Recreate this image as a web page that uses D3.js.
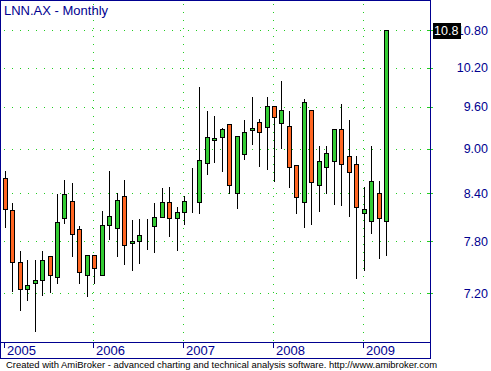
<!DOCTYPE html>
<html>
<head>
<meta charset="utf-8">
<script src="https://cdn.jsdelivr.net/npm/d3@7"></script>
<style>
  body { margin: 0; background: #fff; }
  svg { display: block; font-family: "Liberation Sans", Arial, sans-serif; }
</style>
</head>
<body>
<div id="chart-div"></div>
<script>
// LNN.AX monthly candles, Jan 2005 - Apr 2009
var months = [
    "2005-01", "2005-02", "2005-03", "2005-04", "2005-05", "2005-06", "2005-07", "2005-08", "2005-09", "2005-10", "2005-11", "2005-12",
    "2006-01", "2006-02", "2006-03", "2006-04", "2006-05", "2006-06", "2006-07", "2006-08", "2006-09", "2006-10", "2006-11", "2006-12",
    "2007-01", "2007-02", "2007-03", "2007-04", "2007-05", "2007-06", "2007-07", "2007-08", "2007-09", "2007-10", "2007-11", "2007-12",
    "2008-01", "2008-02", "2008-03", "2008-04", "2008-05", "2008-06", "2008-07", "2008-08", "2008-09", "2008-10", "2008-11", "2008-12",
    "2009-01", "2009-02", "2009-03", "2009-04"
];
var open = [
    8.60, 8.19, 7.55, 7.25, 7.31, 7.35, 7.63, 7.38, 8.09, 8.30, 7.95, 7.41,
    7.64, 7.41, 8.00, 7.96, 8.37, 7.78, 7.80, 7.99, 7.99, 8.10, 8.29, 8.09,
    8.16, 8.30, 8.29, 8.80, 9.12, 9.16, 9.35, 8.41, 8.92, 9.26, 9.38, 9.31,
    9.61, 9.36, 9.32, 8.78, 8.29, 9.55, 8.51, 8.75, 8.83, 9.28, 8.90, 8.79,
    8.15, 8.05, 8.40, 8.05
];
var high = [
    8.70, 8.28, 7.69, 7.58, 7.58, 7.69, 7.63, 8.39, 8.58, 8.54, 7.99, 7.64,
    7.64, 8.18, 8.69, 8.40, 8.58, 8.06, 8.07, 8.07, 8.28, 8.47, 8.48, 8.23,
    8.36, 8.74, 9.90, 9.54, 9.47, 9.29, 9.35, 9.18, 9.40, 9.75, 9.42, 9.75,
    9.61, 9.99, 9.54, 8.78, 9.72, 9.55, 9.03, 9.03, 9.28, 9.64, 9.40, 8.90,
    8.48, 9.03, 8.56, 10.80
];
var low = [
    7.97, 7.22, 7.02, 7.13, 6.79, 7.18, 7.21, 7.32, 8.02, 7.62, 7.31, 7.17,
    7.32, 7.40, 7.83, 7.62, 7.53, 7.46, 7.54, 7.71, 7.67, 8.10, 7.87, 7.70,
    8.01, 8.16, 8.15, 8.66, 8.82, 8.69, 8.41, 8.21, 8.86, 9.06, 8.76, 8.72,
    8.56, 9.01, 8.48, 8.15, 7.98, 8.01, 8.17, 8.40, 8.26, 8.25, 8.11, 7.37,
    7.46, 7.90, 7.60, 7.64
];
var close = [
    8.20, 7.55, 7.25, 7.29, 7.35, 7.58, 7.41, 8.04, 8.39, 7.89, 7.44, 7.64,
    7.49, 8.00, 8.11, 8.32, 7.76, 7.80, 7.88, 7.99, 8.10, 8.29, 8.09, 8.16,
    8.30, 8.30, 8.84, 9.16, 9.15, 9.28, 8.51, 9.18, 9.23, 9.29, 9.23, 9.61,
    9.45, 9.55, 8.75, 8.35, 9.67, 8.55, 8.83, 8.94, 9.28, 8.79, 8.68, 8.23,
    8.20, 8.56, 8.09, 10.80
];
var yTicks = [7.2, 7.8, 8.4, 9.0, 9.6, 10.2, 10.8];
var yearTicks = ["2005-01", "2006-01", "2007-01", "2008-01", "2009-01"];
var yearLabels = ["2005", "2006", "2007", "2008", "2009"];
var lastClose = "10.8";

var W = 491, H = 371;
var plotRight = 430, plotBottom = 342, frameBottom = 358;
var navy = "#000090", gridGreen = "#22cc22";
var upColor = "#33cc33", downColor = "#ff6622";

var bars = months.map(function (m, i) {
    return { m: m, o: open[i], h: high[i], l: low[i], c: close[i] };
});

var svg = d3.select("#chart-div")
    .append("svg")
    .attr("width", W)
    .attr("height", H);

var x = d3.scaleBand()
    .domain(months)
    .range([2, 2 + months.length * 7.44])
    .paddingInner(0.3)
    .paddingOuter(0);

var y = d3.scaleLog()
    .domain([6.678, 11.32])
    .range([plotBottom, 0]);

function cx(m) {
    return Math.round(x(m) + x.bandwidth() / 2);
}

// grid
var grid = svg.append("g").attr("shape-rendering", "crispEdges");
grid.selectAll("line.hgrid")
    .data(yTicks)
    .enter()
    .append("line")
    .attr("class", "hgrid")
    .attr("x1", 4)
    .attr("x2", plotRight - 3)
    .attr("y1", function (d) { return Math.round(y(d)) + 0.5; })
    .attr("y2", function (d) { return Math.round(y(d)) + 0.5; })
    .attr("stroke", gridGreen)
    .attr("stroke-dasharray", "1,7");
grid.selectAll("line.vgrid")
    .data(yearTicks.slice(1))
    .enter()
    .append("line")
    .attr("class", "vgrid")
    .attr("x1", function (d) { return cx(d) - 0.5; })
    .attr("x2", function (d) { return cx(d) - 0.5; })
    .attr("y1", 4)
    .attr("y2", plotBottom)
    .attr("stroke", gridGreen)
    .attr("stroke-dasharray", "1,7");
grid.selectAll("line.ytick")
    .data(yTicks)
    .enter()
    .append("line")
    .attr("class", "ytick")
    .attr("x1", plotRight - 3)
    .attr("x2", plotRight + 3)
    .attr("y1", function (d) { return Math.round(y(d)) + 0.5; })
    .attr("y2", function (d) { return Math.round(y(d)) + 0.5; })
    .attr("stroke", gridGreen);

// candles
var candles = svg.append("g").attr("shape-rendering", "crispEdges");
candles.selectAll("line.wick")
    .data(bars)
    .enter()
    .append("line")
    .attr("class", "wick")
    .attr("x1", function (d) { return cx(d.m) + 0.5; })
    .attr("x2", function (d) { return cx(d.m) + 0.5; })
    .attr("y1", function (d) { return Math.round(y(d.h)); })
    .attr("y2", function (d) { return Math.round(y(d.l)) + 1; })
    .attr("stroke", "#000");
candles.selectAll("rect.body")
    .data(bars)
    .enter()
    .append("rect")
    .attr("class", "body")
    .attr("x", function (d) { return cx(d.m) - 2 + 0.5; })
    .attr("width", 4)
    .attr("y", function (d) { return Math.round(y(Math.max(d.o, d.c))) + 0.5; })
    .attr("height", function (d) {
        return Math.round(y(Math.min(d.o, d.c))) - Math.round(y(Math.max(d.o, d.c)));
    })
    .attr("fill", function (d) { return d.c >= d.o ? upColor : downColor; })
    .attr("stroke", "#000");

// frame
var frame = svg.append("g")
    .attr("shape-rendering", "crispEdges")
    .attr("stroke", navy)
    .attr("fill", "none");
frame.append("rect")
    .attr("x", 0.5)
    .attr("y", 0.5)
    .attr("width", plotRight)
    .attr("height", frameBottom);
frame.append("line")
    .attr("x1", 0)
    .attr("x2", plotRight)
    .attr("y1", plotBottom + 0.5)
    .attr("y2", plotBottom + 0.5);

// year axis
var years = svg.append("g");
years.selectAll("line")
    .data(yearTicks)
    .enter()
    .append("line")
    .attr("shape-rendering", "crispEdges")
    .attr("x1", function (d) { return cx(d) - 0.5; })
    .attr("x2", function (d) { return cx(d) - 0.5; })
    .attr("y1", plotBottom + 1)
    .attr("y2", plotBottom + 6)
    .attr("stroke", navy);
years.selectAll("text")
    .data(yearTicks)
    .enter()
    .append("text")
    .attr("x", function (d) { return cx(d) + 2; })
    .attr("y", 355)
    .attr("font-size", 13)
    .attr("fill", navy)
    .text(function (d, i) { return yearLabels[i]; });

// price axis
svg.append("g").selectAll("text")
    .data(yTicks)
    .enter()
    .append("text")
    .attr("x", 488)
    .attr("y", function (d) { return y(d) + 4.5; })
    .attr("text-anchor", "end")
    .attr("font-size", 12.5)
    .attr("fill", navy)
    .text(function (d) { return d3.format(".2f")(d); });

// last close marker
var lastY = y(close[close.length - 1]);
svg.append("rect")
    .attr("x", 433)
    .attr("y", Math.round(lastY) - 7)
    .attr("width", 28)
    .attr("height", 16)
    .attr("fill", "#000");
svg.append("text")
    .attr("x", 434)
    .attr("y", lastY + 4.5)
    .attr("font-size", 12.5)
    .attr("fill", "#fff")
    .text(lastClose);

// title + footer
svg.append("text")
    .attr("x", 4)
    .attr("y", 15)
    .attr("font-size", 13)
    .attr("fill", navy)
    .text("LNN.AX - Monthly");
svg.append("text")
    .attr("x", 6)
    .attr("y", 368)
    .attr("font-size", 9.5)
    .attr("textLength", 431)
    .attr("lengthAdjust", "spacingAndGlyphs")
    .attr("fill", "#000")
    .text("Created with AmiBroker - advanced charting and technical analysis software. http://www.amibroker.com");
</script>
</body>
</html>
